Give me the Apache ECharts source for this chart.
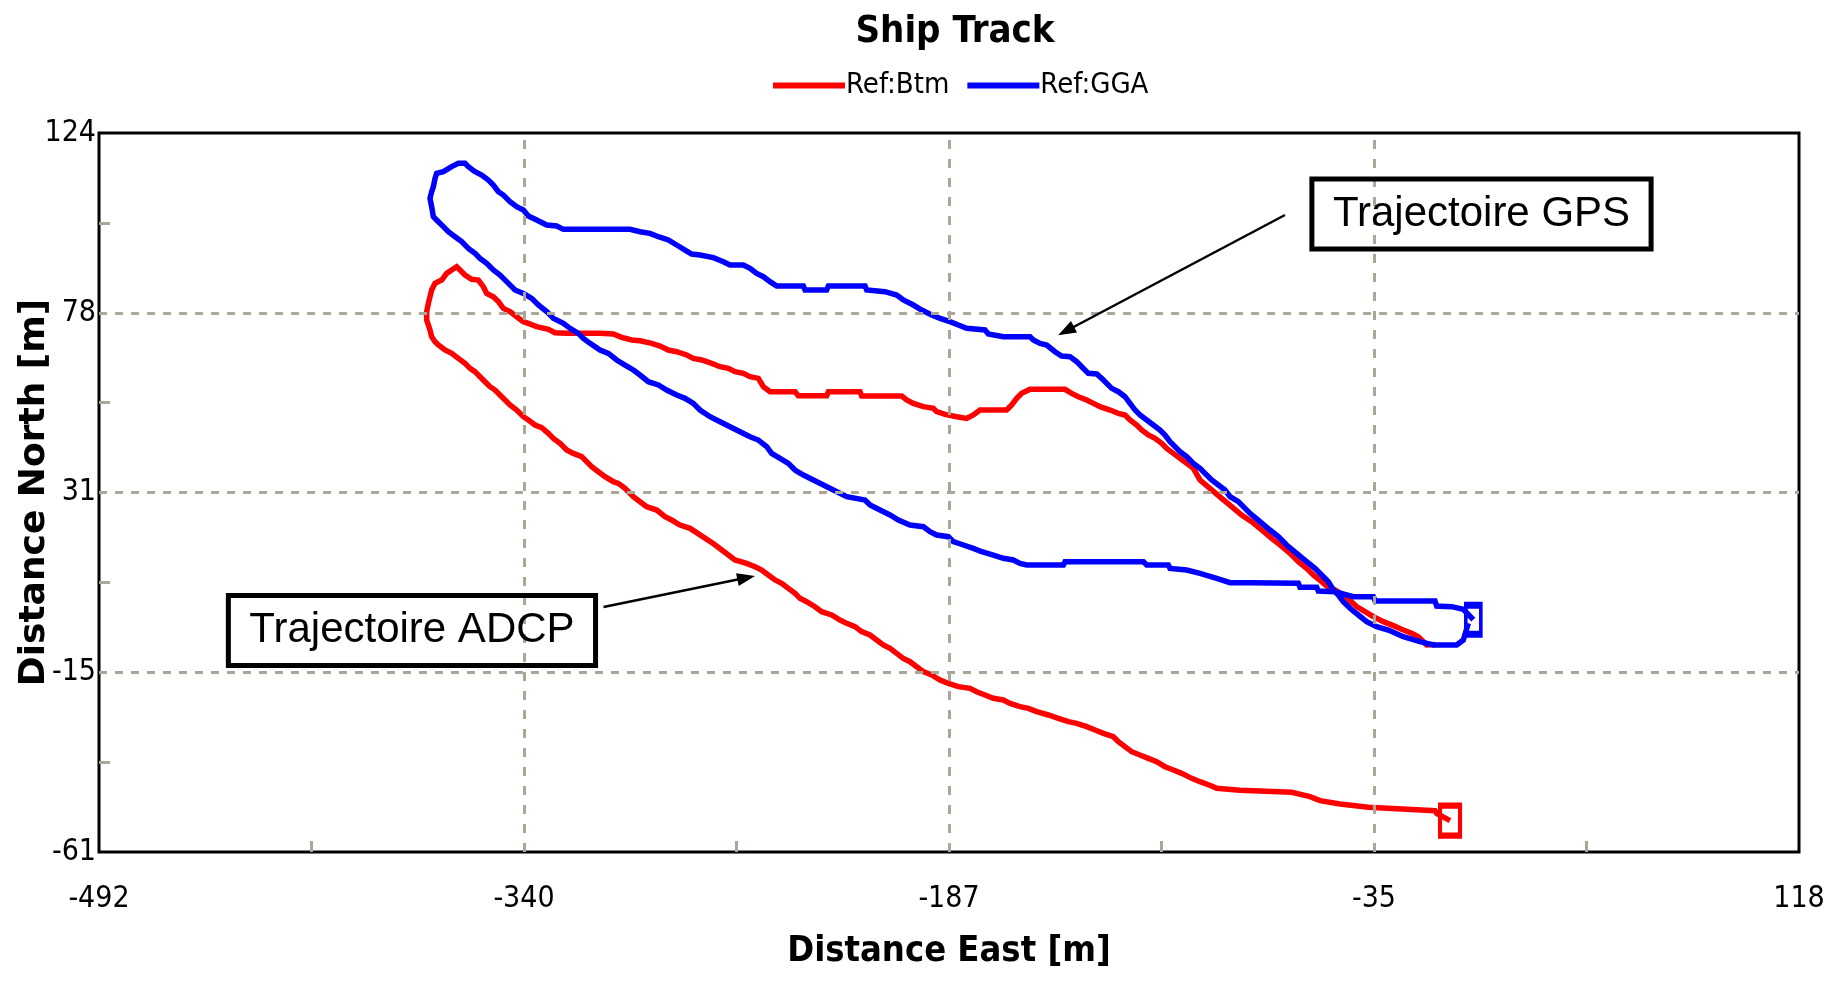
<!DOCTYPE html>
<html>
<head>
<meta charset="utf-8">
<script src="https://cdn.jsdelivr.net/npm/echarts@6/dist/echarts.min.js"></script>
<style>
html,body{margin:0;padding:0;background:#fff;}
#chart{width:1843px;height:986px;}
</style>
</head>
<body>
<div id="chart"></div>
<script>
// ---- data (Distance East [m], Distance North [m]) ----
const chartTitle = 'Ship Track';
const seriesNames = ['Ref:Btm', 'Ref:GGA'];
const xTickValues = [-492, -339.5, -187, -34.5, 118];
const xTickLabels = ['-492', '-340', '-187', '-35', '118'];
const xMinorTicks = [-415.75, -263.25, -110.75, 41.75];
const yTickValues = [-61, -14.75, 31.5, 77.75, 124];
const yTickLabels = ['-61', '-15', '31', '78', '124'];
const yMinorTicks = [-37.875, 8.375, 54.625, 100.875];

// Bottom-track referenced ship track (red)
const btmTrack = [
[-12.50,-7.60],[-15.60,-7.74],[-18.59,-5.59],[-20.99,-4.73],[-23.98,-3.88],[-27.56,-2.76],[-31.15,-1.73],[-34.74,-0.45],[-37.73,0.84],[-40.72,2.13],[-43.11,3.67],[-46.10,5.39],[-48.50,6.42],[-51.49,7.45],[-53.28,8.56],[-56.27,10.28],[-58.66,11.99],[-61.65,13.71],[-64.64,15.85],[-68.23,17.99],[-71.22,19.71],[-74.81,21.85],[-78.40,24.00],[-81.99,25.71],[-85.58,27.86],[-89.16,30.00],[-92.75,32.15],[-96.94,34.72],
[-99.32,37.71],[-101.71,39.00],[-104.10,40.29],[-106.50,41.57],[-108.89,42.86],[-110.68,44.15],[-113.08,45.43],[-115.47,46.29],[-117.86,47.58],[-119.65,48.87],[-122.05,50.15],[-123.84,51.44],[-126.23,51.87],[-129.22,52.72],[-132.81,53.58],[-135.20,54.44],[-137.60,55.30],[-140.59,56.15],[-142.98,57.01],[-145.37,58.04],[-157.93,58.04],[-160.92,57.01],[-162.71,55.73],[-164.51,54.01],[-166.30,52.72],[-175.87,52.72],[-178.26,51.44],[-180.65,50.58],[-184.24,51.01],[-188.43,51.61],[-191.42,52.30],[-192.62,53.15],[-196.20,53.58],[-199.79,54.44],[-202.18,55.30],[-203.98,56.33],[-218.33,56.33],[-218.93,57.44],[-230.29,57.44],[-230.89,56.41],[-241.06,56.41],[-242.25,57.44],[-251.22,57.44],[-253.62,58.73],[-255.41,60.87],[-258.40,61.30],[-260.79,62.16],[-263.78,62.59],[-266.18,63.44],[-269.16,63.87],[-272.15,64.73],[-275.74,65.59],[-278.73,66.02],[-281.13,66.88],[-284.71,67.73],[-287.71,68.16],[-290.70,69.19],[-293.69,69.88],[-297.87,70.56],[-300.86,70.74],[-304.45,71.42],[-307.44,72.28],[-312.22,72.45],[-324.19,72.45],[-328.37,72.62],[-330.76,73.48],[-334.95,74.17],[-337.94,75.02],[-339.73,75.45],[-342.13,76.74],[-344.52,78.03],[-346.91,78.88],[-348.71,80.60],[-350.50,81.88],[-352.89,82.74],[-354.09,84.46],[-355.88,86.17],[-358.27,86.35],[-360.67,87.46],[-362.46,88.75],[-363.66,89.60],[-365.45,88.75],[-367.24,87.89],[-369.04,86.17],[-371.43,85.32],[-372.63,83.60],[-373.23,81.88],[-373.82,80.17],[-374.42,78.03],[-374.42,75.88],[-373.23,73.31],[-372.63,71.59],[-371.43,70.31],[-370.23,69.45],[-367.84,68.16],[-365.45,67.30],[-363.06,66.02],[-360.67,64.73],[-358.87,63.44],[-357.08,62.59],[-355.28,61.30],[-353.49,60.01],[-351.70,58.73],[-349.90,57.87],[-348.11,56.58],[-346.31,55.30],[-344.52,54.01],[-342.13,52.72],[-339.73,51.01],[-337.94,50.15],[-335.55,48.86],[-333.16,48.18],[-330.76,46.72],[-328.97,45.43],[-326.58,44.15],[-324.19,42.43],[-321.79,41.57],[-318.80,40.72],[-317.01,39.43],[-315.22,38.14],[-312.82,36.86],[-310.43,35.57],[-307.44,34.28],[-305.65,33.85],[-303.25,32.57],[-301.46,31.28],[-300.26,30.42],[-297.87,29.14],[-295.48,27.85],[-291.89,26.99],[-288.90,25.28],[-286.51,24.42],[-283.52,23.14],[-279.93,22.28],[-271.50,18.30],
[-263.79,14.13],[-259.60,13.27],[-256.61,12.41],[-254.22,11.56],[-251.83,10.27],[-249.44,8.98],[-247.05,8.13],[-244.65,6.84],[-242.26,5.55],[-240.47,4.27],[-238.08,3.41],[-235.08,2.12],[-232.69,0.84],[-229.10,-0.02],[-226.11,-1.31],[-223.72,-2.17],[-220.73,-3.02],[-218.34,-4.31],[-215.35,-5.17],[-212.96,-6.45],[-210.56,-7.74],[-208.17,-8.60],[-205.78,-9.89],[-203.39,-11.17],[-201.00,-12.03],[-198.60,-13.32],[-196.21,-14.60],[-193.22,-15.46],[-190.23,-16.75],[-187.24,-17.60],[-183.65,-18.46],[-179.46,-18.89],[-177.07,-19.75],[-174.08,-20.61],[-171.09,-21.46],[-167.50,-21.89],[-165.11,-22.75],[-161.52,-23.61],[-158.53,-24.04],[-155.54,-24.89],[-151.36,-25.75],[-147.77,-26.61],[-144.18,-27.47],[-141.19,-27.90],[-137.60,-28.76],[-134.61,-29.61],[-131.62,-30.47],[-128.03,-31.33],[-126.24,-32.61],[-123.85,-33.90],[-121.46,-35.19],[-118.46,-36.04],[-115.47,-36.90],[-112.48,-37.76],[-109.49,-39.05],[-106.50,-39.90],[-103.51,-40.76],[-99.93,-42.05],[-96.94,-42.91],[-92.75,-44.02],[-90.96,-44.62],[-82.59,-45.10],[-64.05,-45.65],[-57.47,-46.76],[-53.88,-47.79],[-46.70,-48.65],[-36.53,-49.51],[-12.61,-50.36],[-12.02,-51.05],[-7.22,-52.94]
];

// GPS (GGA) referenced ship track (blue)
const ggaTrack = [
[-0.65,-2.16],[-2.45,-6.45],[-4.84,-7.74],[-13.21,-7.74],[-18.00,-6.88],[-23.98,-5.59],[-29.36,-3.88],[-33.55,-3.02],[-37.13,-1.73],[-40.12,-0.02],[-43.11,1.70],[-45.51,3.41],[-47.30,5.13],[-49.09,6.42],[-50.89,8.56],[-53.28,10.28],[-55.67,11.99],[-58.66,13.71],[-62.25,15.85],[-65.84,17.99],[-68.83,20.14],[-71.82,21.85],[-75.41,24.00],[-79.00,26.14],[-83.17,29.14],[-86.16,30.42],[-87.96,32.14],[-90.35,33.43],[-92.74,34.71],[-95.13,36.43],[-96.93,37.71],[-99.32,39.00],[-101.71,40.72],[-104.10,42.00],[-105.90,43.29],[-107.69,44.58],[-109.49,46.29],[-111.28,47.58],[-113.67,48.87],[-116.07,50.15],[-118.46,51.44],[-120.25,52.72],[-122.05,54.44],[-123.84,56.15],[-126.23,57.44],[-128.62,58.30],[-130.42,59.59],[-132.21,60.87],[-134.01,61.99],[-137.00,62.16],[-139.39,63.87],[-141.18,65.16],[-143.58,66.45],[-146.57,66.62],[-148.96,67.73],[-151.95,69.45],[-154.34,69.88],[-156.73,70.74],[-157.93,71.59],[-167.50,71.59],[-172.88,72.28],[-174.08,73.31],[-180.65,73.74],[-183.65,74.60],[-186.64,75.45],[-190.22,76.31],[-193.21,77.17],[-196.80,78.46],[-199.79,79.74],[-203.38,81.03],[-205.77,82.31],[-209.96,83.17],[-216.54,83.60],[-217.14,84.63],[-230.29,84.63],[-230.89,83.60],[-238.66,83.60],[-239.26,84.63],[-248.83,84.63],[-251.22,85.75],[-253.62,87.03],[-256.01,87.89],[-258.40,89.18],[-260.79,90.03],[-265.58,90.03],[-267.97,90.89],[-271.56,91.92],[-276.34,92.61],[-279.33,92.86],[-281.72,93.89],[-284.71,95.18],[-287.71,96.47],[-291.29,97.32],[-294.28,98.18],[-297.87,98.61],[-301.46,99.21],[-325.38,99.21],[-327.77,100.07],[-331.36,100.33],[-334.95,101.61],[-337.94,102.64],[-339.73,104.19],[-342.13,105.04],[-344.52,106.33],[-346.91,108.04],[-348.71,108.90],[-350.50,110.62],[-352.29,111.90],[-354.69,113.19],[-357.08,114.05],[-359.47,115.34],[-360.67,116.19],[-363.06,116.19],[-365.45,115.34],[-368.44,114.05],[-370.83,113.62],[-371.43,112.33],[-372.03,110.19],[-372.63,108.90],[-373.23,107.19],[-372.63,105.04],[-372.03,102.47],[-370.23,101.18],[-368.44,99.90],[-366.65,98.61],[-364.25,97.32],[-361.86,96.04],[-359.47,94.32],[-357.08,93.04],[-355.28,91.75],[-352.89,90.46],[-350.50,88.75],[-348.11,87.46],[-345.71,85.75],[-342.73,83.60],[-339.73,82.74],[-336.74,81.46],[-334.35,79.74],[-331.36,78.03],[-328.97,76.31],[-325.38,75.02],[-322.99,73.74],[-320.00,72.45],[-318.21,71.16],[-315.81,69.88],[-312.22,68.16],[-309.23,67.30],[-306.24,65.59],[-303.25,64.30],[-300.26,63.02],[-297.87,61.73],[-294.88,60.01],[-291.29,59.16],[-288.30,57.87],[-284.71,56.58],[-281.72,55.73],[-278.73,54.44],[-276.34,52.72],[-272.75,51.01],[-269.16,49.72],[-265.58,48.43],[-261.99,47.15],[-258.40,45.86],[-255.41,45.00],[-252.42,43.29],[-250.62,41.57],[-247.63,40.29],[-244.64,39.00],[-242.25,37.28],[-239.26,36.00],[-235.67,34.71],[-232.09,33.42],[-228.50,32.14],[-223.71,30.42],[-217.14,29.57],[-215.34,28.28],[-211.75,26.99],[-208.17,25.71],[-205.18,24.42],[-200.99,23.13],[-196.20,22.70],[-193.81,21.42],[-191.42,20.56],[-187.23,20.13],[-185.44,18.85],[-181.85,17.99],[-178.26,17.13],[-175.27,16.27],[-171.09,15.41],[-167.50,14.56],[-163.91,14.13],[-161.52,13.27],[-159.13,12.84],[-145.97,12.84],[-145.37,13.70],[-117.26,13.70],[-116.07,12.84],[-108.29,12.84],[-107.69,11.98],[-101.71,11.55],[-96.93,10.70],[-90.95,9.41],[-86.16,8.30],[-78.99,8.30],[-61.65,8.13],[-61.06,7.10],[-55.07,7.10],[-54.48,6.16],[-48.50,5.99],[-41.92,4.70],[-34.74,4.70],[-34.10,3.59],[-12.61,3.59],[-12.02,2.30],[-6.63,2.13],[-2.45,1.44],[1.14,-1.22]
];

// annotations: label, box centre (E,N), arrow start (E,N), arrow end (E,N)
const noteGps = {text: 'Trajectoire GPS', at: [4.07, 103.16], from: [-66.44, 102.90], to: [-145.0, 73.05]};
const noteAdcp = {text: 'Trajectoire ADCP', at: [-379.7, -4.0], from: [-310.97, 2.04], to: [-259.77, 9.55]};

// ---- styling ----
const RED = '#ff0000', BLUE = '#0000ff', GRIDC = '#aaa698';
const NARROW = '"Liberation Sans Narrow", "Arial Narrow", "DejaVu Sans Condensed", sans-serif';
const ARIAL = '"Liberation Sans", Arial, sans-serif';

function lbl(values, labels) {
  return function (v) {
    for (let i = 0; i < values.length; i++) if (Math.abs(values[i] - v) < 1e-6) return labels[i];
    return '';
  };
}
function trackData(track, endSymbolSize, color) {
  return track.map(function (p, i) {
    if (i === track.length - 1) {
      return {value: p, symbol: 'rect', symbolSize: endSymbolSize,
        itemStyle: {color: 'rgba(0,0,0,0)', borderColor: color, borderWidth: 5}};
    }
    return {value: p};
  });
}

const chart = echarts.init(document.getElementById('chart'), null, {renderer: 'canvas'});
const gridLines = [];
xTickValues.slice(1, -1).forEach(function (v) {
  gridLines.push({xAxis: v, lineStyle: {color: GRIDC, width: 3, type: [9, 10]}});
});
yTickValues.slice(1, -1).forEach(function (v) {
  gridLines.push({yAxis: v, lineStyle: {color: GRIDC, width: 3, type: [8, 8]}});
});

function noteMarkPoint(n) {
  return {coord: n.at, symbol: 'rect', symbolSize: 1,
    itemStyle: {color: 'rgba(0,0,0,0)', borderWidth: 0},
    label: {show: true, position: 'inside', formatter: n.text, color: '#000', fontSize: 42, fontFamily: ARIAL,
      lineHeight: 46, padding: [12, 21, 12, 21], borderColor: '#000', borderWidth: 2.5, backgroundColor: 'rgba(0,0,0,0)'}};
}

const option = {
  animation: false,
  backgroundColor: '#fff',
  title: {
    text: chartTitle, left: 950, top: 8, textAlign: 'center',
    textStyle: {fontFamily: NARROW, fontWeight: 'bold', fontSize: 38, color: '#000'}
  },
  legend: {
    data: seriesNames, left: 768, top: 66, itemWidth: 72, itemHeight: 6, itemGap: 18,
    icon: 'rect', selectedMode: false,
    textStyle: {fontFamily: NARROW, fontSize: 29, color: '#000', padding: [0, 0, 0, -4]}
  },
  grid: {left: 99, right: 44, top: 133, bottom: 134, containLabel: false, outerBoundsMode: 'none',
    show: true, borderColor: '#000', borderWidth: 3, backgroundColor: 'rgba(0,0,0,0)'},
  xAxis: {
    type: 'value', min: -492, max: 118,
    name: 'Distance East [m]', nameLocation: 'middle', nameGap: 82, nameMoveOverlap: false,
    nameTextStyle: {fontFamily: NARROW, fontWeight: 'bold', fontSize: 36, color: '#000'},
    axisLine: {show: false, onZero: false},
    axisTick: {show: true, inside: true, length: 11, customValues: xMinorTicks, lineStyle: {color: GRIDC, width: 3}},
    axisLabel: {show: true, customValues: xTickValues, formatter: lbl(xTickValues, xTickLabels), margin: 32,
      fontFamily: NARROW, fontSize: 30, color: '#000', showMinLabel: true, showMaxLabel: true, hideOverlap: false},
    splitLine: {show: false}
  },
  yAxis: {
    type: 'value', min: -61, max: 124,
    name: 'Distance North [m]', nameLocation: 'middle', nameGap: 46, nameMoveOverlap: false,
    nameTextStyle: {fontFamily: '"DejaVu Sans", sans-serif', fontWeight: 'bold', fontSize: 36, color: '#000'},
    axisLine: {show: false, onZero: false},
    axisTick: {show: true, inside: true, length: 11, customValues: yMinorTicks, lineStyle: {color: GRIDC, width: 3}},
    axisLabel: {show: true, customValues: yTickValues, formatter: lbl(yTickValues, yTickLabels), margin: 3,
      fontFamily: NARROW, fontSize: 30, color: '#000', showMinLabel: true, showMaxLabel: true, hideOverlap: false},
    splitLine: {show: false}
  },
  series: [
    {
      name: 'grid', type: 'line', data: [], z: 1, silent: true,
      markLine: {silent: true, symbol: ['none', 'none'], label: {show: false}, data: gridLines, animation: false}
    },
    {
      name: seriesNames[0], type: 'line', z: 3, color: RED, data: trackData(btmTrack, [20, 30], RED),
      symbol: 'none', showSymbol: true, smooth: false, silent: true, clip: true,
      lineStyle: {color: RED, width: 5.5, join: 'miter'}
    },
    {
      name: seriesNames[1], type: 'line', z: 4, color: BLUE, data: trackData(ggaTrack, [15, 29], BLUE),
      symbol: 'none', showSymbol: true, smooth: false, silent: true, clip: true,
      lineStyle: {color: BLUE, width: 5.5, join: 'miter'}
    },
    {
      name: 'notes', type: 'line', data: [], z: 6, silent: true,
      markPoint: {silent: true, animation: false, data: [noteMarkPoint(noteGps), noteMarkPoint(noteAdcp)]},
      markLine: {silent: true, animation: false, symbol: ['none', 'triangle'], symbolSize: [13, 18],
        label: {show: false}, lineStyle: {color: '#000', width: 2.5, type: 'solid'},
        data: [
          [{coord: noteGps.from}, {coord: noteGps.to}],
          [{coord: noteAdcp.from}, {coord: noteAdcp.to}]
        ]}
    }
  ]
};
chart.setOption(option);
</script>
</body>
</html>
